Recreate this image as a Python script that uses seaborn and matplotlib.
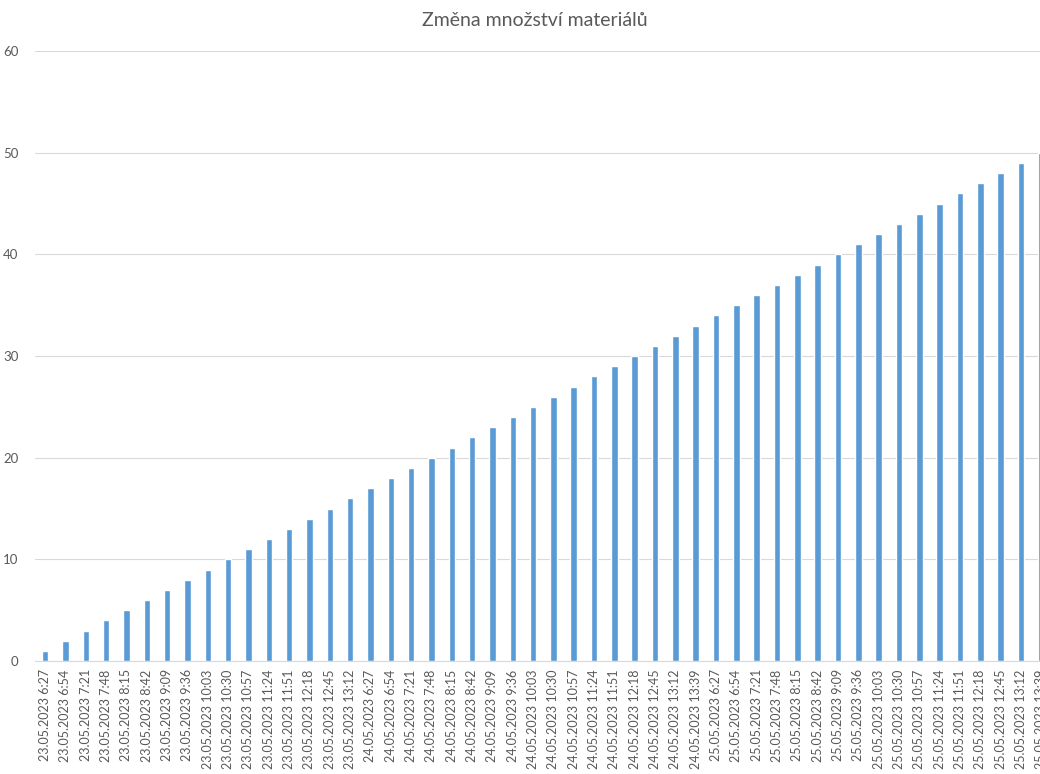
import matplotlib
matplotlib.use("Agg")
import matplotlib.pyplot as plt
import seaborn as sns
import pandas as pd
import numpy as np

days = ["23.05.2023"] * 16 + ["24.05.2023"] * 17 + ["25.05.2023"] * 17
times_day1 = ["6:27", "6:54", "7:21", "7:48", "8:15", "8:42", "9:09", "9:36",
              "10:03", "10:30", "10:57", "11:24", "11:51", "12:18", "12:45", "13:12"]
times_day23 = times_day1 + ["13:39"]
times = times_day1 + times_day23 + times_day23
labels = [f"{d} {t}" for d, t in zip(days, times)]
values = [1, 2, 3, 4, 5, 6, 7, 8, 9, 10,
          11, 12, 13, 14, 15, 16, 17, 18, 19, 20,
          21, 22, 23, 24, 25, 26, 27, 28, 29, 30,
          31, 32, 33, 34, 35, 36, 37, 38, 39, 40,
          41, 42, 43, 44, 45, 46, 47, 48, 49, 50]

df = pd.DataFrame({"cas": labels, "mnozstvi": values})

sns.set_style("white")
plt.rcParams["font.family"] = ["Lato", "DejaVu Sans"]

fig = plt.figure(figsize=(10.40, 7.74), dpi=100)
ax = fig.add_axes([35 / 1040, 113 / 774, 1016.5 / 1040, 610 / 774])

sns.barplot(data=df, x="cas", y="mnozstvi", order=labels, color="#5B9BD5",
            width=0.32, saturation=1, ax=ax, zorder=3)

ax.set_xlim(-0.5, len(labels) - 0.5)
ax.set_ylim(0, 60)
ax.set_yticks(np.arange(0, 61, 10))
ax.grid(axis="y", color="#D9D9D9", linewidth=0.8, zorder=0)
ax.set_xlabel("")
ax.set_ylabel("")

for side in ["top", "right", "left"]:
    ax.spines[side].set_visible(False)
ax.spines["bottom"].set_color("#D9D9D9")
ax.spines["bottom"].set_linewidth(0.8)

ax.tick_params(axis="y", length=0, pad=12, labelsize=9.5, labelcolor="#595959")
ax.set_xticks(range(len(labels)))
ax.set_xticklabels(labels, rotation=90, fontsize=9, color="#595959")
ax.tick_params(axis="x", which="major", length=0, pad=6)

# category dividers running down through the label area
ax.set_xticks(np.arange(-0.5, len(labels), 1), minor=True)
ax.tick_params(axis="x", which="minor", length=90, width=0.8, color="#D9D9D9",
               direction="out")

fig.text(535 / 1040, 1 - 20 / 774, "Změna množství materiálů", ha="center",
         va="center", fontsize=14, color="#595959")

fig.savefig("out.png", dpi=100)
